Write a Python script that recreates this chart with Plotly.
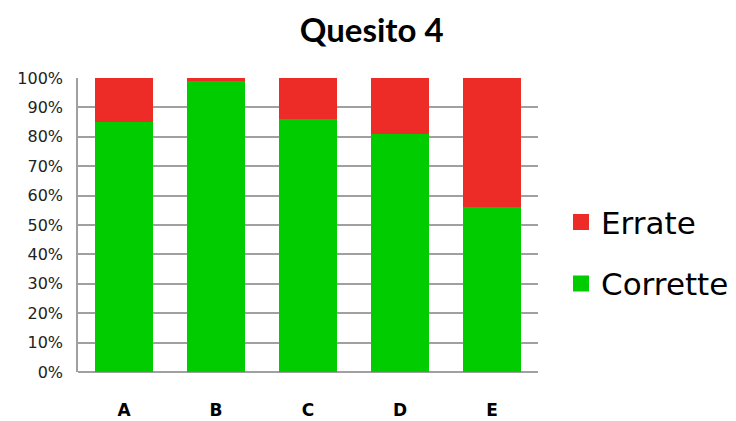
import plotly.graph_objects as go

categories = ["A", "B", "C", "D", "E"]
corrette = [85, 99, 86, 81, 56]
errate = [15, 1, 14, 19, 44]
y_ticks = [0, 10, 20, 30, 40, 50, 60, 70, 80, 90, 100]
y_tick_labels = [f"{v}%" for v in y_ticks]

GREEN = "#00CC00"
RED = "#EE2C27"

fig = go.Figure()
fig.add_trace(go.Bar(x=categories, y=corrette, name="Corrette",
                     marker=dict(color=GREEN, line=dict(width=0)),
                     showlegend=False))
fig.add_trace(go.Bar(x=categories, y=errate, name="Errate",
                     marker=dict(color=RED, line=dict(width=0)),
                     showlegend=False))
# legend entries (large square swatches)
fig.add_trace(go.Scatter(x=[None], y=[None], mode="markers", name="Errate",
                         marker=dict(symbol="square", size=20, color=RED),
                         legendrank=1, legendgroup="e"))
fig.add_trace(go.Scatter(x=[None], y=[None], mode="markers", name="Corrette",
                         marker=dict(symbol="square", size=20, color=GREEN),
                         legendrank=2, legendgroup="c"))

fig.update_layout(
    width=736, height=421,
    barmode="stack", bargap=0.37,
    plot_bgcolor="white", paper_bgcolor="white",
    margin=dict(l=78, r=198, t=78, b=49, autoexpand=False),
    title=dict(text="<b>Quesito 4</b>", x=0.505, xanchor="center", y=0.928, yanchor="middle",
               font=dict(family="Lato, Open Sans, sans-serif", size=33, color="black")),
    legend=dict(x=1.05, y=0.405, xanchor="left", yanchor="middle",
                traceorder="grouped", tracegroupgap=18, itemsizing="trace",
                font=dict(family="DejaVu Sans, sans-serif", size=31, color="black"),
                bgcolor="rgba(0,0,0,0)"),
    xaxis=dict(showgrid=False, showline=False, ticks="",
               ticklabelstandoff=26,
               tickfont=dict(family="DejaVu Sans, sans-serif", size=17, color="black", weight="bold")),
    yaxis=dict(range=[0, 100], tickvals=y_ticks, ticktext=y_tick_labels,
               showgrid=True, gridcolor="#A0A0A0", gridwidth=1.5,
               showline=True, linecolor="#A0A0A0", linewidth=1.5,
               zeroline=True, zerolinecolor="#A0A0A0", zerolinewidth=1.5,
               ticks="", ticklabelstandoff=10,
               tickfont=dict(family="DejaVu Sans, sans-serif", size=16, color="#222222")),
)

fig.write_html("out.html", config={"displayModeBar": False},
               post_script="document.body.style.margin='0';document.body.style.overflow='hidden';")
